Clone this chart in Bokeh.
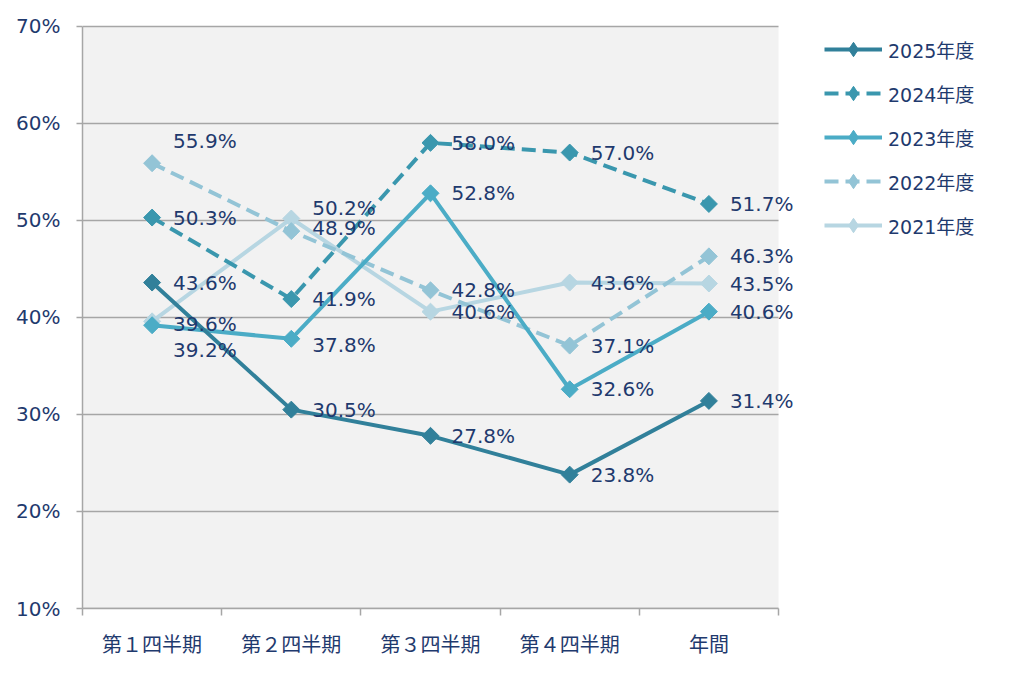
from bokeh.plotting import figure
from bokeh.models import (ColumnDataSource, FixedTicker, Legend, LegendItem, Range1d)
from bokeh.core.properties import value
from bokeh.embed import file_html
from bokeh.resources import INLINE

categories = ["第１四半期", "第２四半期", "第３四半期", "第４四半期", "年間"]
series_names = ["2025年度", "2024年度", "2023年度", "2022年度", "2021年度"]
v2025 = [43.6, 30.5, 27.8, 23.8, 31.4]
v2024 = [50.3, 41.9, 58.0, 57.0, 51.7]
v2023 = [39.2, 37.8, 52.8, 32.6, 40.6]
v2022 = [55.9, 48.9, 42.8, 37.1, 46.3]
v2021 = [39.6, 50.2, 40.6, 43.6, 43.5]
y_ticks = [10, 20, 30, 40, 50, 60, 70]
y_tick_labels = ["10%", "20%", "30%", "40%", "50%", "60%", "70%"]

# styling
colors = ["#31809a", "#3a97ae", "#4bacc6", "#93c4d6", "#b7d6e2"]
dashes = ["solid", "14 7", "solid", "14 7", "solid"]
# vertical nudges (screen px, positive = down) for data labels to avoid collisions
label_nudge = [
    [0, 0, 0, 0, 0],
    [0, 0, 0, 0, 0],
    [25, 6, 0, 0, 0],
    [-22, -3, 0, 0, 0],
    [3, -11, 0, 0, 0],
]
TXT = "#1f3a6e"
GRID = "#a6a6a6"
FONT = "DejaVu Sans"
JFONT = "Noto Sans CJK JP"
MIXFONT = "'DejaVu Sans', 'Noto Sans CJK JP', sans-serif"

values = [v2025, v2024, v2023, v2022, v2021]
ncat = len(categories)
xpos = [i + 0.5 for i in range(ncat)]

# layout: plotting area of the categories is 696 px wide; the frame extends to the
# right so that labels and legend are not clipped
PLOT_W = 696
FRAME_W = 926
x_end = ncat * FRAME_W / PLOT_W

p = figure(width=1008, height=660, frame_width=FRAME_W, frame_height=584,
           output_backend="svg", toolbar_location=None,
           x_range=Range1d(0, x_end), y_range=Range1d(y_ticks[0], y_ticks[-1] + 0.2),
           min_border_left=82, min_border_top=24, min_border_bottom=52, min_border_right=0)
p.background_fill_color = "white"
p.border_fill_color = "white"
p.outline_line_color = None
p.xgrid.visible = False
p.ygrid.visible = False

# gray plotting area and horizontal gridlines limited to the category span
p.quad(left=[0], right=[ncat], bottom=[y_ticks[0]], top=[y_ticks[-1]],
       fill_color="#f2f2f2", line_color=None)
p.segment(x0=[0] * len(y_ticks), x1=[ncat] * len(y_ticks), y0=y_ticks, y1=y_ticks,
          line_color=GRID, line_width=1.5)

p.yaxis.ticker = FixedTicker(ticks=y_ticks)
p.yaxis.bounds = (y_ticks[0], y_ticks[-1])
p.yaxis.major_label_overrides = {t: l for t, l in zip(y_ticks, y_tick_labels)}
p.yaxis.axis_line_color = GRID
p.yaxis.axis_line_width = 1.5
p.yaxis.major_tick_line_color = GRID
p.yaxis.major_tick_line_width = 1.5
p.yaxis.major_tick_in = 0
p.yaxis.major_tick_out = 6
p.yaxis.minor_tick_line_color = None
p.yaxis.major_label_text_font = FONT
p.yaxis.major_label_text_font_size = "20px"
p.yaxis.major_label_text_color = TXT
p.yaxis.major_label_standoff = 16

p.xaxis.ticker = FixedTicker(ticks=xpos, minor_ticks=list(range(ncat + 1)))
p.xaxis.bounds = (0, ncat)
p.xaxis.major_label_overrides = {x: c for x, c in zip(xpos, categories)}
p.xaxis.axis_line_color = GRID
p.xaxis.axis_line_width = 1.5
p.xaxis.major_tick_line_color = None
p.xaxis.minor_tick_line_color = GRID
p.xaxis.minor_tick_line_width = 1.5
p.xaxis.minor_tick_in = 0
p.xaxis.minor_tick_out = 7
p.xaxis.major_label_text_font = JFONT
p.xaxis.major_label_text_font_size = "20px"
p.xaxis.major_label_text_color = TXT
p.xaxis.major_label_standoff = 13

srcs = {}
legend_r = {}
for i in reversed(range(len(series_names))):
    src = ColumnDataSource(dict(x=xpos, y=values[i],
                                lbl=[f"{v:.1f}%" for v in values[i]],
                                dy=label_nudge[i]))
    lr = p.line("x", "y", source=src, line_color=colors[i], line_width=4,
                line_dash=dashes[i])
    dr = p.scatter("x", "y", source=src, marker="diamond", size=12,
                   fill_color=colors[i], line_color=colors[i])
    p.scatter("x", "y", source=src, marker="square", size=12, angle=0.785398,
              fill_color=colors[i], line_color=colors[i])
    srcs[i] = src
    legend_r[i] = (lr, dr)

for i in reversed(range(len(series_names))):
    p.text("x", "y", text="lbl", source=srcs[i], x_offset=21, y_offset="dy",
           text_font=value(FONT), text_font_size="20px", text_color=TXT,
           text_baseline="middle", text_align="left")

items = [LegendItem(label=series_names[i], renderers=list(legend_r[i]))
         for i in range(len(series_names))]

legend = Legend(items=items, orientation="vertical", location=(742, 365),
                glyph_width=58, glyph_height=36, label_height=36,
                label_standoff=6, spacing=8, padding=0, margin=0,
                border_line_color=None, background_fill_alpha=0,
                label_text_font=MIXFONT, label_text_font_size="19px",
                label_text_color=TXT)
p.add_layout(legend)

open("out.html", "w").write(file_html(p, INLINE))
